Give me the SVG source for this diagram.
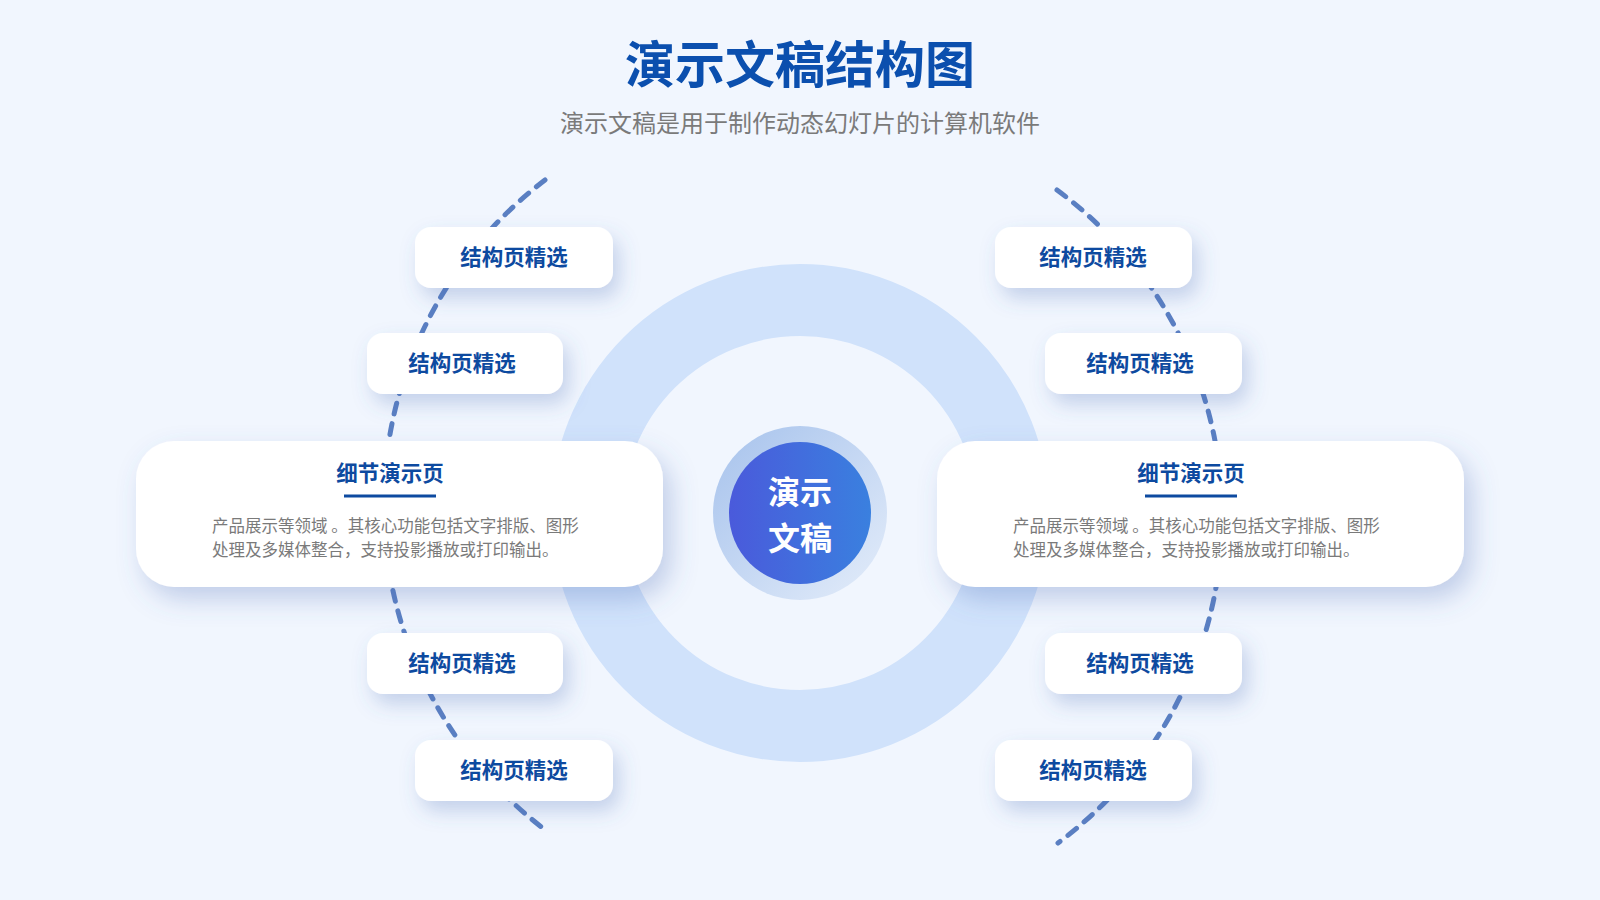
<svg xmlns="http://www.w3.org/2000/svg" width="1600" height="900" viewBox="0 0 1600 900">
<defs>
<style>
.title{font-family:"Noto Sans CJK SC","Noto Sans",sans-serif;font-weight:700;font-size:50px;fill:#0b4fae;text-anchor:middle}
.sub{font-family:"Noto Sans CJK SC","Noto Sans",sans-serif;font-size:24px;fill:#7a7a7a;text-anchor:middle}
.card{fill:#ffffff;filter:url(#sh)}
.big{fill:#ffffff;filter:url(#shBig)}
.lbl{font-family:"Noto Sans CJK SC","Noto Sans",sans-serif;font-weight:700;font-size:21.5px;fill:#0d4aa0;text-anchor:middle}
.body{font-family:"Noto Sans CJK SC","Noto Sans",sans-serif;font-size:16.5px;fill:#7a7a7a}
.uline{stroke:#0d4aa0;stroke-width:3}
.dash{fill:none;stroke:#5a7fc2;stroke-width:5;stroke-linecap:round;stroke-dasharray:11 10}
.center{font-family:"Noto Sans CJK SC","Noto Sans",sans-serif;font-weight:700;font-size:32px;fill:#ffffff;text-anchor:middle}
</style>
<filter id="sh" x="-30%" y="-50%" width="160%" height="220%">
<feDropShadow dx="6" dy="10" stdDeviation="10" flood-color="#4e6fb5" flood-opacity="0.28"/>
</filter>
<filter id="shBig" x="-20%" y="-30%" width="140%" height="170%">
<feDropShadow dx="8" dy="12" stdDeviation="13" flood-color="#4e6fb5" flood-opacity="0.3"/>
</filter>
<linearGradient id="core" x1="0" y1="0" x2="1" y2="0">
<stop offset="0" stop-color="#4a5adb"/>
<stop offset="1" stop-color="#3a80df"/>
</linearGradient>
<linearGradient id="halo" x1="0" y1="0" x2="1" y2="1">
<stop offset="0" stop-color="#a6c2ec"/>
<stop offset="1" stop-color="#e4edfa"/>
</linearGradient>
</defs>
<rect width="1600" height="900" fill="#f1f6fe"/>
<text class="title" x="800" y="83">演示文稿结构图</text>
<text class="sub" x="800" y="132">演示文稿是用于制作动态幻灯片的计算机软件</text>
<circle cx="800" cy="513" r="213" fill="none" stroke="#d0e2fb" stroke-width="72"/>
<g id="connectors">
<path class="dash" d="M545 180 A408 408 0 0 0 548 832"/>
<path class="dash" d="M1057 190 A406 406 0 0 1 1058 843"/>
</g>
<g id="center">
<circle cx="800" cy="513" r="87" fill="url(#halo)"/>
<circle cx="800" cy="513" r="71" fill="url(#core)"/>
<text class="center" x="800" y="504">演示</text>
<text class="center" x="800" y="550">文稿</text>
</g>
<g id="l1"><rect class="card" x="415" y="227" width="198" height="61" rx="16"/><text class="lbl" x="514" y="265">结构页精选</text></g>
<g id="l2"><rect class="card" x="367" y="333" width="196" height="61" rx="16"/><text class="lbl" x="462" y="371">结构页精选</text></g>
<g id="l3"><rect class="card" x="367" y="633" width="196" height="61" rx="16"/><text class="lbl" x="462" y="671">结构页精选</text></g>
<g id="l4"><rect class="card" x="415" y="740" width="198" height="61" rx="16"/><text class="lbl" x="514" y="778">结构页精选</text></g>
<g id="r1"><rect class="card" x="995" y="227" width="197" height="61" rx="16"/><text class="lbl" x="1093" y="265">结构页精选</text></g>
<g id="r2"><rect class="card" x="1045" y="333" width="197" height="61" rx="16"/><text class="lbl" x="1140" y="371">结构页精选</text></g>
<g id="r3"><rect class="card" x="1045" y="633" width="197" height="61" rx="16"/><text class="lbl" x="1140" y="671">结构页精选</text></g>
<g id="r4"><rect class="card" x="995" y="740" width="197" height="61" rx="16"/><text class="lbl" x="1093" y="778">结构页精选</text></g>
<g id="detailLeft">
<rect class="big" x="136" y="441" width="527" height="146" rx="38"/>
<text class="lbl" x="390" y="481">细节演示页</text>
<line class="uline" x1="344" y1="496" x2="436" y2="496"/>
<text class="body" x="212" y="532">产品展示等领域 。其核心功能包括文字排版、图形</text>
<text class="body" x="212" y="556">处理及多媒体整合，支持投影播放或打印输出。</text>
</g>
<g id="detailRight">
<rect class="big" x="937" y="441" width="527" height="146" rx="38"/>
<text class="lbl" x="1191" y="481">细节演示页</text>
<line class="uline" x1="1145" y1="496" x2="1237" y2="496"/>
<text class="body" x="1013" y="532">产品展示等领域 。其核心功能包括文字排版、图形</text>
<text class="body" x="1013" y="556">处理及多媒体整合，支持投影播放或打印输出。</text>
</g>
</svg>
